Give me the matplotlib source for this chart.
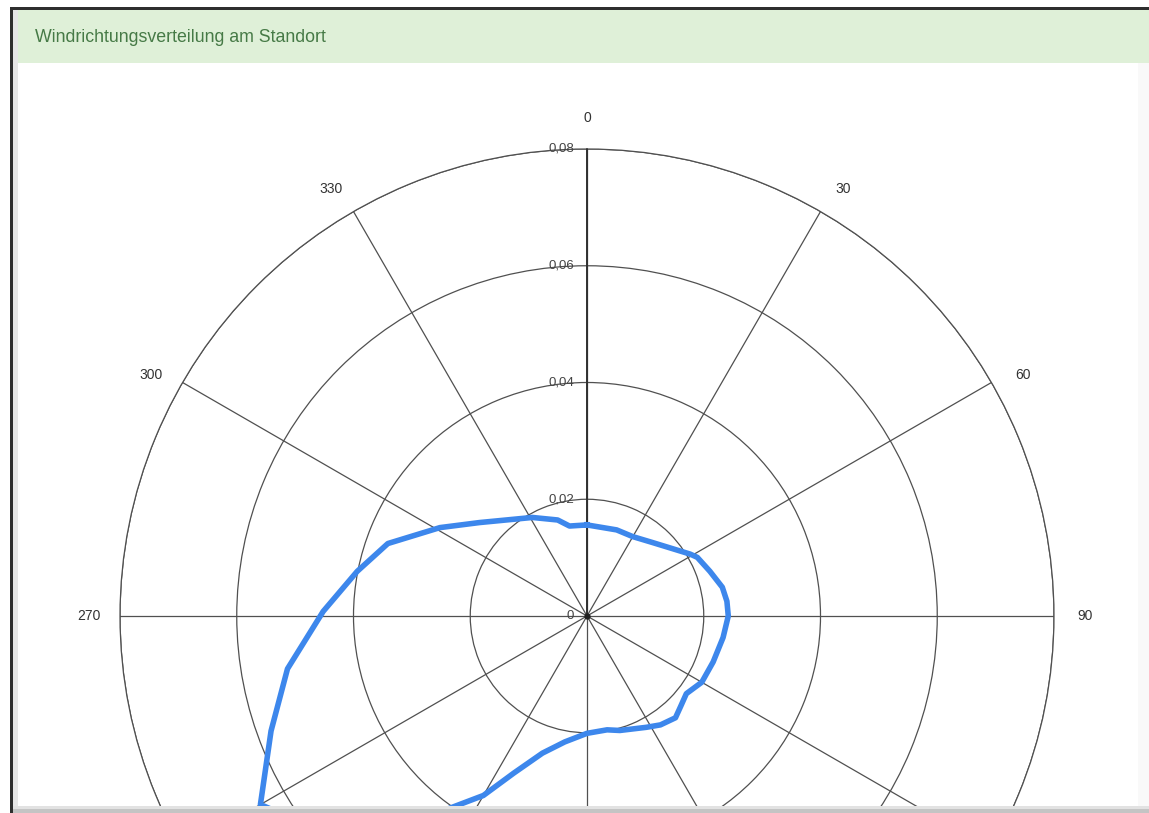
import numpy as np
import matplotlib.pyplot as plt
from matplotlib.patches import Rectangle

plt.rcParams['font.family'] = ['Liberation Sans', 'DejaVu Sans']

# wind direction (deg, clockwise from north) and relative frequency
direction = [0, 19, 30, 42, 59, 62, 70, 78, 84, 90, 99, 110, 120, 128, 134,
             139, 146, 152, 164, 170, 180, 190, 198, 205, 210, 217, 220, 230,
             240, 250, 260, 271, 281, 290, 301, 311, 331, 343, 349, 360]
freq = [0.0156, 0.0156, 0.0157, 0.0169, 0.0206, 0.0214, 0.0224, 0.0237,
        0.0241, 0.0242, 0.0236, 0.0230, 0.0227, 0.0216, 0.0223, 0.0231,
        0.0225, 0.0216, 0.0204, 0.0198, 0.0201, 0.0219, 0.0247, 0.0297,
        0.0355, 0.0421, 0.0480, 0.0580, 0.0646, 0.0576, 0.0521, 0.0452,
        0.0401, 0.0363, 0.0294, 0.0244, 0.0193, 0.0172, 0.0157, 0.0156]

angle_ticks = list(range(0, 360, 30))
# only these labels are inside the visible (cropped) part of the chart
angle_labels = [0, 30, 60, 90, 270, 300, 330]
r_ticks = [0, 0.02, 0.04, 0.06, 0.08]
r_labels = ['0', '0,02', '0,04', '0,06', '0,08']
title = 'Windrichtungsverteilung am Standort'

W, H = 1149, 813
fig = plt.figure(figsize=(W / 100, H / 100), dpi=100)
fig.patch.set_facecolor('white')

# polar plot: centre at (587, 616) px, outer radius 467 px
cx, cy, R = 587, 616, 467
ax = fig.add_axes([(cx - R) / W, (H - cy - R) / H, 2 * R / W, 2 * R / H],
                  projection='polar')
ax.set_theta_zero_location('N')
ax.set_theta_direction(-1)
ax.set_ylim(0, 0.08)
ax.set_xticks(np.deg2rad(angle_ticks))
ax.set_xticklabels([])
ax.set_yticks(r_ticks[1:])
ax.set_yticklabels([])
ax.tick_params(length=0)
ax.grid(True, color='#505050', lw=0.9)
ax.spines['polar'].set_color('#505050')
ax.spines['polar'].set_linewidth(0.9)
ax.set_facecolor('white')

ax.plot([0, 0], [0, 0.08], color='#303030', lw=1.4, zorder=3)
ax.plot(np.deg2rad(direction), freq, color='#3d87ec', lw=4.0,
        solid_joinstyle='round', zorder=4)
ax.plot([0], [0], 'o', color='#202020', ms=3.5, zorder=5)

for a in angle_labels:
    # nudge diagonal labels slightly away from the vertical axis
    shift = 0 if a % 90 == 0 else (1 if a < 180 else -1)
    ax.text(np.deg2rad(a + shift), 0.0853, str(a), ha='center', va='center',
            fontsize=10, color='#333333')
for r, lab in zip(r_ticks, r_labels):
    ax.annotate(lab, xy=(0, r), xytext=(-9.5, 0), textcoords='offset points',
                ha='right', va='center', fontsize=9.5, color='#444444',
                zorder=6)


def px_rect(x0, y0, x1, y1, color, z=10):
    fig.add_artist(Rectangle((x0 / W, 1 - y1 / H), (x1 - x0) / W,
                             (y1 - y0) / H, transform=fig.transFigure,
                             facecolor=color, edgecolor='none', zorder=z))


# screenshot frame and panel header
px_rect(0, 0, W, 8, 'white')
px_rect(0, 0, 10, H, 'white')
px_rect(10, 7, W, 10, '#2e2e2e')
px_rect(10, 7, 13, H, '#2e2e2e')
px_rect(13, 10, 18, H, '#e6e6e6')
px_rect(18, 10, W, 63, '#dff0d8')
px_rect(1138, 63, W, H, '#f9f9f9', z=2)
px_rect(13, 806, W, 809, '#e2e2e2')
px_rect(13, 809, W, H, '#c4c4c4')
fig.text(35 / W, 1 - 38 / H, title, ha='left', va='center',
         fontsize=12.8, color='#467a46', zorder=11)

fig.savefig('out.png', dpi=100)
